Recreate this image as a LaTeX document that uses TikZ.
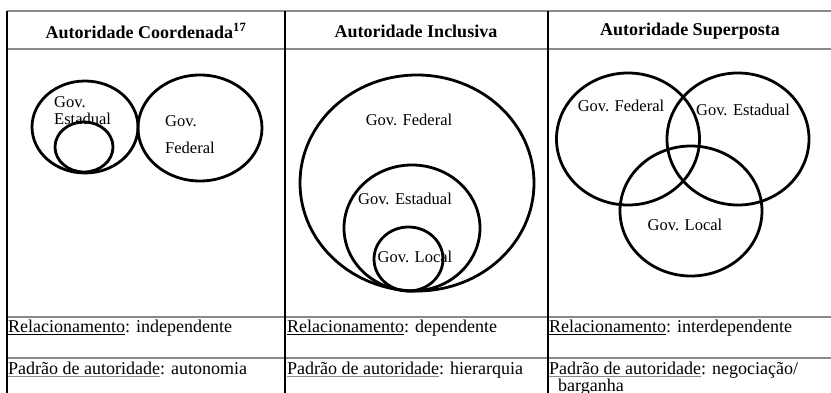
\documentclass[tikz,border=0pt]{standalone}
\usepackage{fontspec}
\setmainfont{Liberation Serif}
\usetikzlibrary{calc}
\definecolor{rulegray}{HTML}{8A8A8A}
\newcommand\myul[2]{\setbox0\hbox{#2}\rlap{\textcolor{#1}{\rule[-3pt]{\wd0}{1.1pt}}}#2}
\tikzset{
  hline/.style={draw=rulegray, line width=1.4pt},
  vline/.style={draw=black, line width=1.1pt},
  ring/.style={draw=black, line width=2.8pt},
  headtxt/.style={font=\fontsize{18}{21}\selectfont\bfseries, inner sep=0pt},
  bodytxt/.style={font=\fontsize{18}{21}\selectfont, inner sep=0pt, anchor=base west},
  lbl/.style={font=\fontsize{16.5}{19}\selectfont, inner sep=0pt}
}
\begin{document}
\begin{tikzpicture}[x=1pt,y=-1pt]
\useasboundingbox (0,0) rectangle (831,393);
\fill[white] (0,0) rectangle (831,393);
% grid
\coordinate (tl) at (7,11);
\draw[hline] (7,11) -- (831,11);
\draw[hline] (7,49) -- (831,49);
\draw[hline] (7,317) -- (831,317);
\draw[hline] (7,358) -- (831,358);
\draw[vline] (7,11) -- (7,393);
\draw[vline] (285,11) -- (285,393);
\draw[vline] (548,11) -- (548,393);
% headers
\node[headtxt] (h1) at (146,31) {Autoridade Coordenada\textsuperscript{17}};
\node[headtxt] (h2) at (416,31) {Autoridade Inclusiva};
\node[headtxt] (h3) at (690,31) {Autoridade Superposta};
% column 1
\draw[ring] (85,127) ellipse [x radius=53, y radius=46];
\draw[ring] (84,147) ellipse [x radius=29, y radius=25];
\draw[ring] (200,128) ellipse [x radius=62, y radius=53];
\node[lbl, anchor=west] (c1a) at (54,102) {Gov.};
\node[lbl, anchor=west] (c1b) at (54,119) {Estadual};
\node[lbl, anchor=west] (c1c) at (165,121) {Gov.};
\node[lbl, anchor=west] (c1d) at (165,148) {Federal};
% column 2
\draw[ring] (417,183) ellipse [x radius=117, y radius=108];
\draw[ring] (412,228) ellipse [x radius=68, y radius=63];
\draw[ring] (408.5,259) ellipse [x radius=34.5, y radius=32];
\node[lbl] (c2a) at (409,120) {Gov. Federal};
\node[lbl] (c2b) at (405,199) {Gov. Estadual};
\node[lbl] (c2c) at (415,257) {Gov. Local};
% column 3
\draw[ring] (628,139) ellipse [x radius=71.5, y radius=66];
\draw[ring] (738,139) ellipse [x radius=71, y radius=66];
\draw[ring] (691,211) ellipse [x radius=71, y radius=65];
\node[lbl] (c3a) at (621,106) {Gov. Federal};
\node[lbl] (c3b) at (743,110) {Gov. Estadual};
\node[lbl] (c3c) at (685,225) {Gov. Local};
% bottom rows
\node[bodytxt] (r1) at (8,332) {\myul{black}{Relacionamento}: independente};
\node[bodytxt] (r2) at (287,332) {\myul{black}{Relacionamento}: dependente};
\node[bodytxt] (r3) at (549,332) {\myul{black}{Relacionamento}: interdependente};
\node[bodytxt] (p1) at (8,374) {\myul{rulegray}{Padrão de autoridade}: autonomia};
\node[bodytxt] (p2) at (287,374) {\myul{rulegray}{Padrão de autoridade}: hierarquia};
\node[bodytxt] (p3) at (549,374) {\myul{rulegray}{Padrão de autoridade}: negociação/};
\node[bodytxt] (p3b) at (558,391) {barganha};
\end{tikzpicture}
\end{document}
